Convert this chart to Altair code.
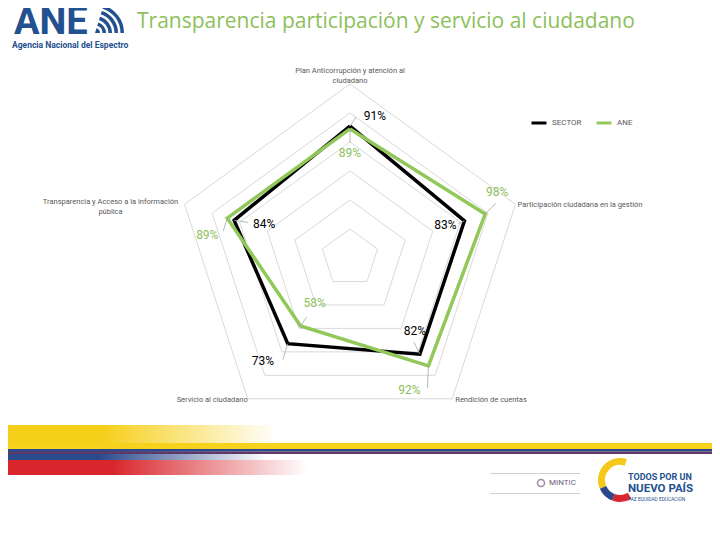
import math
import altair as alt
import pandas as pd

# ---------------- data ----------------
AXES = [
    "Plan Anticorrupción y atención al ciudadano",
    "Participación ciudadana en la gestión",
    "Rendición de cuentas",
    "Servicio al ciudadano",
    "Transparencia y Acceso a la información pública",
]
SERIES = ["SECTOR", "ANE"]
SECTOR = [91, 83, 82, 73, 84]
ANE = [89, 98, 92, 58, 89]
GRID_LEVELS = [20, 40, 60, 80, 100, 120]
TITLE = "Transparencia participación y servicio al ciudadano"

# ---------------- layout / style ----------------
COLORS = ["#000000", "#92c85a"]
GREEN_TEXT = "#8dc05a"
PX = 145.0          # pixels for 100 %
CX, CY = 342, 250   # centre of the radar in view pixels
W, H = 704, 524

# label offsets (px, screen direction) from the point: label centre, leader end
LABEL_OFF = {
    "SECTOR": [(25, -10), (-19, 4), (-5, -23), (-25, 17), (30, 4)],
    "ANE": [(0, 24), (12, -22), (-19, 24), (14, -23), (-20, 17)],
}
LEADER_END = {
    "SECTOR": [(6, -9), (-6, 3), (-6, -12), (-5, 16), (14, 2)],
    "ANE": [(0, 14), (11, -11), (-1, 22), (6, -9), (-4, 13)],
}
AXIS_LABEL_TEXT = [
    "Plan Anticorrupción y atención al\nciudadano",
    "Participación ciudadana en la gestión",
    "Rendición de cuentas",
    "Servicio al ciudadano",
    "Transparencia y Acceso a la información\npública",
]
AXIS_LABEL_OFF = [(0, -13), (2, 1), (3, 1), (0, 1), (-74, -2)]
AXIS_LABEL_ALIGN = ["center", "left", "left", "right", "center"]


def ang(i):
    return math.radians(90 - 72 * i)


def pos(r, i):
    return r / 100 * math.cos(ang(i)), r / 100 * math.sin(ang(i))


# grid
grid_rows = []
for lvl in GRID_LEVELS:
    for k in range(6):
        x, y = pos(lvl, k % 5)
        grid_rows.append({"level": lvl, "k": k, "x": x, "y": y})
grid_df = pd.DataFrame(grid_rows)

values = {"SECTOR": SECTOR, "ANE": ANE}
ser_rows, lab_rows = [], []
for s in SERIES:
    for k in range(6):
        i = k % 5
        x, y = pos(values[s][i], i)
        ser_rows.append({"series": s, "k": k, "x": x, "y": y})
    for i in range(5):
        x, y = pos(values[s][i], i)
        dx, dy = LABEL_OFF[s][i]
        ex, ey = LEADER_END[s][i]
        lab_rows.append({
            "series": s, "x": x, "y": y,
            "lx": x + dx / PX, "ly": y - dy / PX,
            "ex": x + ex / PX, "ey": y - ey / PX,
            "text": f"{values[s][i]}%",
        })
ser_df = pd.DataFrame(ser_rows)
lab_df = pd.DataFrame(lab_rows)

ax_rows = []
for i in range(5):
    x, y = pos(GRID_LEVELS[-1], i)
    dx, dy = AXIS_LABEL_OFF[i]
    ax_rows.append({"x": x + dx / PX, "y": y - dy / PX, "text": AXIS_LABEL_TEXT[i],
                    "al": AXIS_LABEL_ALIGN[i]})
ax_df = pd.DataFrame(ax_rows)

xs = alt.Scale(domain=[-CX / PX, (W - CX) / PX], nice=False, zero=False)
ys = alt.Scale(domain=[-(H - CY) / PX, CY / PX], nice=False, zero=False)
X = alt.X("x:Q", scale=xs, axis=None)
Y = alt.Y("y:Q", scale=ys, axis=None)

color = alt.Color(
    "series:N",
    scale=alt.Scale(domain=SERIES, range=COLORS),
    legend=alt.Legend(
        orient="none", legendX=522, legendY=106, direction="horizontal", title=None,
        symbolType="stroke", symbolStrokeWidth=3, symbolSize=225,
        labelFontSize=8, labelColor="#595959", labelFont="Roboto", columnPadding=8,
    ),
)

grid = alt.Chart(grid_df).mark_line(color="#d9d9d9", strokeWidth=1).encode(
    x=X, y=Y, detail="level:N", order="k:O")

line_sector = alt.Chart(ser_df[ser_df["series"] == "SECTOR"]).mark_line(
    strokeWidth=3.5, strokeJoin="miter").encode(x=X, y=Y, order="k:O", color=color)
line_ane = alt.Chart(ser_df[ser_df["series"] == "ANE"]).mark_line(
    strokeWidth=3.5, strokeJoin="miter").encode(x=X, y=Y, order="k:O", color=color)

leaders = alt.Chart(lab_df).mark_rule(color="#a6a6a6", strokeWidth=0.8).encode(
    x=X, y=Y, x2="ex:Q", y2="ey:Q")

lab_sector = alt.Chart(lab_df[lab_df["series"] == "SECTOR"]).mark_text(
    font="Roboto", fontSize=12, color="#000000", baseline="middle").encode(
    x=alt.X("lx:Q", scale=xs, axis=None), y=alt.Y("ly:Q", scale=ys, axis=None), text="text:N")
lab_ane = alt.Chart(lab_df[lab_df["series"] == "ANE"]).mark_text(
    font="Roboto", fontSize=12, color=GREEN_TEXT, baseline="middle").encode(
    x=alt.X("lx:Q", scale=xs, axis=None), y=alt.Y("ly:Q", scale=ys, axis=None), text="text:N")

axis_layers = []
for al in ["center", "left", "right"]:
    axis_layers.append(
        alt.Chart(ax_df[ax_df["al"] == al]).mark_text(
            font="Roboto", fontSize=7.5, color="#595959", align=al, baseline="middle",
            lineBreak="\n", lineHeight=10).encode(x=X, y=Y, text="text:N"))

one = pd.DataFrame({"a": [0]})


def txt(t, x, y, **kw):
    return alt.Chart(one).mark_text(text=t, **kw).encode(x=alt.value(x), y=alt.value(y))


def rect(x, x2, y, y2, **kw):
    return alt.Chart(one).mark_rect(**kw).encode(
        x=alt.value(x), x2=alt.value(x2), y=alt.value(y), y2=alt.value(y2))


def hfade(c0, c1):
    return alt.Gradient(
        gradient="linear", x1=0, x2=1, y1=0, y2=0,
        stops=[alt.GradientStop(color=c0, offset=0),
               alt.GradientStop(color=c0, offset=0.35),
               alt.GradientStop(color=c1, offset=1)])


title = txt(TITLE, 129, 20, font="Open Sans", fontSize=21, color=GREEN_TEXT,
            align="left", baseline="alphabetic")
logo_ane = txt("ANE", 6, 26, font="Roboto", fontSize=38, fontWeight="bold",
               color="#23508f", align="left", baseline="alphabetic")
logo_sub = txt("Agencia Nacional del Espectro", 4, 36.5, font="Roboto", fontSize=8.5,
               fontWeight="bold", color="#23508f", align="left", baseline="middle")
waves = [alt.Chart(one).mark_arc(theta=0.3, theta2=1.57, radius=5, color="#23508f")
         .encode(x=alt.value(87), y=alt.value(25))] + [
    alt.Chart(one).mark_arc(theta=0.3, theta2=1.57, radius=r, radius2=r - 3.5, color="#23508f")
    .encode(x=alt.value(87), y=alt.value(25))
    for r in (11, 17, 23, 29)
]

yellow_fade = rect(0, 270, 417, 435, fill=hfade("#f6cf1b", "rgba(246,207,27,0)"))
blue_fade = rect(0, 260, 441, 452, fill=hfade("#2b4a8e", "rgba(43,74,142,0)"))
red_fade = rect(0, 300, 452, 467, fill=hfade("#d9262c", "rgba(217,38,44,0)"))
yellow_band = rect(0, 704, 435, 441, color="#f6d21c")
blue_band = rect(0, 704, 441, 443.5, color="#2b4a8e")
purple_band = rect(0, 704, 443.5, 446, color="#5e3866")

mintic_l1 = rect(482, 572, 465, 466, color="#d0d0d0")
mintic_l2 = rect(482, 572, 485, 486, color="#d0d0d0")
mintic_seal = alt.Chart(one).mark_point(shape="circle", size=50, color="#7a5a86",
                                        strokeWidth=1.5).encode(x=alt.value(533), y=alt.value(475))
mintic_txt = txt("MINTIC", 541, 475, font="Roboto", fontSize=8, color="#6b5a7a",
                 align="left", baseline="middle")
swoosh = [
    alt.Chart(one).mark_arc(theta=t1, theta2=t2, radius=22, radius2=15, color=c)
    .encode(x=alt.value(612), y=alt.value(472))
    for (t1, t2, c) in [(4.3, 6.6, "#f6c81c"), (3.5, 4.3, "#2b4a8e"), (2.6, 3.5, "#d9262c")]
]
todos1 = txt("TODOS POR UN", 620, 469, font="Roboto", fontSize=9, fontWeight="bold",
             color="#23508f", align="left", baseline="middle")
todos2 = txt("NUEVO PAÍS", 620, 481, font="Roboto", fontSize=11.5, fontWeight="bold",
             color="#23508f", align="left", baseline="middle")
todos3 = txt("PAZ   EQUIDAD   EDUCACIÓN", 620, 491.5, font="Roboto", fontSize=4.8,
             color="#23508f", align="left", baseline="middle")

chart = alt.layer(
    yellow_fade, blue_fade, red_fade, yellow_band, blue_band, purple_band,
    grid, line_sector, line_ane, leaders, lab_sector, lab_ane, *axis_layers,
    title, logo_ane, logo_sub, *waves,
    mintic_l1, mintic_l2, mintic_seal, mintic_txt, *swoosh, todos1, todos2, todos3,
).properties(
    width=W, height=H, padding=0, autosize=alt.AutoSizeParams(type="none"),
    background="white",
).configure_view(stroke=None)

chart.save("out.html", embed_options={"renderer": "svg", "actions": False})
